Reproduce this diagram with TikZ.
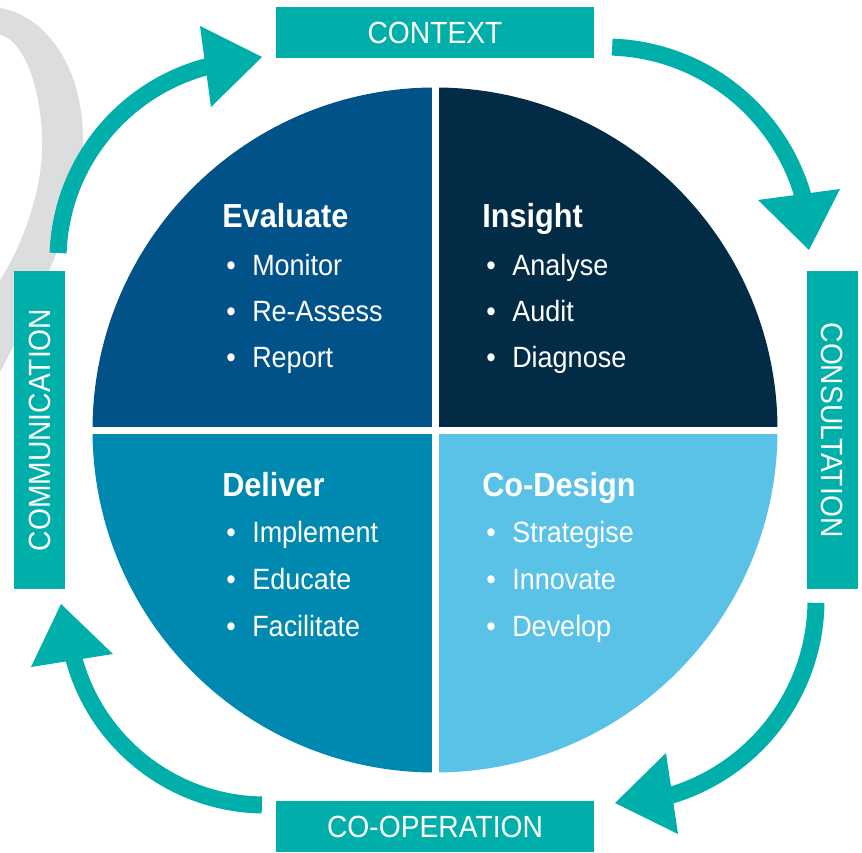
\documentclass[tikz,border=0pt]{standalone}
\usepackage{fontspec}
\setmainfont{Liberation Sans}[FakeStretch=0.92]
\definecolor{tealc}{RGB}{0,175,170}
\definecolor{evalc}{RGB}{0,82,136}
\definecolor{insc}{RGB}{2,43,69}
\definecolor{delc}{RGB}{0,137,176}
\definecolor{codc}{RGB}{91,194,231}
\definecolor{greyc}{RGB}{220,221,223}
\newcommand{\mybullet}{\makebox[19.5pt][l]{\textbullet}}
\begin{document}
\begin{tikzpicture}[x=0.75pt,y=-0.75pt,
  lbl/.style={fill=tealc, text=white, font=\fontsize{23}{23}\selectfont,
    minimum width=238.5pt, minimum height=38.25pt, inner sep=0pt,
    text height=16.5pt, text depth=0pt, anchor=center},
  hd/.style={anchor=base west, inner sep=0pt, text=white,
    font=\fontsize{25}{25}\selectfont\bfseries},
  itm/.style={anchor=base west, inner sep=0pt, text=white,
    font=\fontsize{22}{22}\selectfont},
  shaft/.style={draw=tealc, line width=12.75pt},
  head/.style={fill=tealc},
  gap/.style={draw=white, line width=5.25pt}]
\useasboundingbox (0,0) rectangle (862,852);
% grey background stroke
\begin{scope}
\clip (0,0) rectangle (862,852);
\fill[greyc] (-5,8) -- (0,8) .. controls (40,14) and (83,60) .. (83,140)
  .. controls (83,190) and (60,260) .. (0,372) -- (-5,372) -- (-5,280) -- (0,280)
  .. controls (20,250) and (44,190) .. (42,140)
  .. controls (41,80) and (20,38) .. (0,35) -- cycle;
\end{scope}
% circle quadrants
\coordinate (c) at (435,430);
\fill[evalc] (c) -- +(180:342.5) arc[start angle=180, end angle=270, radius=342.5] -- cycle;
\fill[insc] (c) -- +(270:342.5) arc[start angle=270, end angle=360, radius=342.5] -- cycle;
\fill[codc] (c) -- +(0:342.5) arc[start angle=0, end angle=90, radius=342.5] -- cycle;
\fill[delc] (c) -- +(90:342.5) arc[start angle=90, end angle=180, radius=342.5] -- cycle;
\draw[gap] (435,80) -- (435,780);
\draw[gap] (85,430) -- (785,430);
% boxes
\node[lbl] (ctx) at (435,32.5) {CONTEXT};
\node[lbl, rotate=-90] (cons) at (832,430) {CONSULTATION};
\node[lbl] (coop) at (435,826.5) {CO-OPERATION};
\node[lbl, rotate=90] (comm) at (39,430) {COMMUNICATION};
% arrows
\coordinate (a1) at (258,260);
\coordinate (a2) at (605,253);
\coordinate (a3) at (612,600);
\coordinate (a4) at (265,607);
\draw[shaft] (a1) ++(182:200) arc[start angle=182, end angle=256, radius=200];
\fill[head] (200,26) -- (262,57) -- (211,107) -- cycle;
\draw[shaft] (a2) ++(272:206) arc[start angle=272, end angle=346, radius=206];
\fill[head] (758,200) -- (840,189) -- (809,250) -- cycle;
\draw[shaft] (a3) ++(0.8:204) arc[start angle=0.8, end angle=76, radius=204];
\fill[head] (666,753) -- (678,834) -- (615,803) -- cycle;
\draw[shaft] (a4) ++(90.9:198) arc[start angle=90.9, end angle=167, radius=198];
\fill[head] (31,667) -- (113,654) -- (61,604) -- cycle;
% texts
\node[hd] (evh) at (222,227) {Evaluate};
\node[itm] (ev1) at (226,275) {\mybullet Monitor};
\node[itm] (ev2) at (226,321) {\mybullet Re-Assess};
\node[itm] (ev3) at (226,367) {\mybullet Report};
\node[hd] (inh) at (482,227) {Insight};
\node[itm] (in1) at (486,275) {\mybullet Analyse};
\node[itm] (in2) at (486,321) {\mybullet Audit};
\node[itm] (in3) at (486,367) {\mybullet Diagnose};
\node[hd] (deh) at (222,496) {Deliver};
\node[itm] (de1) at (226,542) {\mybullet Implement};
\node[itm] (de2) at (226,589) {\mybullet Educate};
\node[itm] (de3) at (226,636) {\mybullet Facilitate};
\node[hd] (coh) at (482,496) {Co-Design};
\node[itm] (co1) at (486,542) {\mybullet Strategise};
\node[itm] (co2) at (486,589) {\mybullet Innovate};
\node[itm] (co3) at (486,636) {\mybullet Develop};
\end{tikzpicture}
\end{document}
